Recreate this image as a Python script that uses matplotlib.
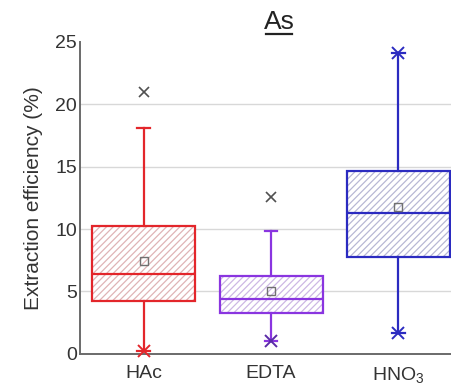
import matplotlib
matplotlib.use("Agg")
import matplotlib.pyplot as plt
from matplotlib.patches import PathPatch
from matplotlib.lines import Line2D

plt.rcParams['font.family'] = ['Liberation Sans', 'DejaVu Sans']
plt.rcParams['mathtext.fontset'] = 'custom'
plt.rcParams['mathtext.rm'] = 'Liberation Sans'
plt.rcParams['mathtext.it'] = 'Liberation Sans:italic'
plt.rcParams['mathtext.bf'] = 'Liberation Sans:bold'
plt.rcParams['hatch.linewidth'] = 0.9

# ---- data ----
categories = ['HAc', 'EDTA', r'HNO$_3$']
q1 = [4.2, 3.27, 7.74]
median = [6.4, 4.39, 11.25]
q3 = [10.24, 6.26, 14.66]
whisker_low = [0.2, 1.0, 1.7]
whisker_high = [18.05, 9.86, 24.1]
means = [7.4, 5.0, 11.8]
outliers = [[21.0], [12.6], []]          # gray x markers
end_marks = [[0.2], [1.0], [1.7, 24.1]]  # colored x at whisker ends
yticks = [0, 5, 10, 15, 20, 25]
title = 'As'
ylabel = 'Extraction efficiency (%)'

colors = ['#e3262b', '#8a35e0', '#2b2bc0']
hatch_colors = ['#dfb4b6', '#cdb8e4', '#b8b8d4']
text_color = '#333333'

fig = plt.figure(figsize=(4.52, 3.92), dpi=100)
ax = fig.add_axes([0.177, 0.097, 0.823, 0.797])

positions = [1, 2, 3]
stats = []
for i in range(3):
    stats.append(dict(med=median[i], q1=q1[i], q3=q3[i], whislo=whisker_low[i],
                      whishi=whisker_high[i], mean=means[i], fliers=[], label=categories[i]))

bp = ax.bxp(stats, positions=positions, widths=0.81, patch_artist=True,
            showmeans=False, showfliers=False, zorder=3)

for i, box in enumerate(bp['boxes']):
    box.set_facecolor('white')
    box.set_edgecolor(hatch_colors[i])
    box.set_hatch('/////')
    box.set_linewidth(0)
    outline = PathPatch(box.get_path(), transform=box.get_transform(), fill=False,
                        edgecolor=colors[i], linewidth=1.6, zorder=4)
    ax.add_patch(outline)
for i in range(3):
    for w in bp['whiskers'][2 * i:2 * i + 2]:
        w.set_color(colors[i]); w.set_linewidth(1.6)
    for c in bp['caps'][2 * i:2 * i + 2]:
        c.set_color(colors[i]); c.set_linewidth(1.6)
        c.set_xdata([positions[i] - 0.05, positions[i] + 0.05])
    bp['medians'][i].set_color(colors[i]); bp['medians'][i].set_linewidth(1.6)
    bp['medians'][i].set_zorder(5)

for i in range(3):
    ax.plot([positions[i]], [means[i]], marker='s', markersize=6, markerfacecolor='none',
            markeredgecolor='#707070', markeredgewidth=1.0, linestyle='none', zorder=6)
    if outliers[i]:
        ax.plot([positions[i]] * len(outliers[i]), outliers[i], marker='x', markersize=7,
                color='#505050', markeredgewidth=1.2, linestyle='none', zorder=6)
    ax.plot([positions[i]] * len(end_marks[i]), end_marks[i], marker='x', markersize=8,
            color=colors[i] if i != 1 else '#5a2aa8', markeredgewidth=1.4,
            linestyle='none', zorder=6, clip_on=False)

ax.set_xlim(0.5, 3.42)
ax.set_ylim(0, 25)
ax.set_yticks(yticks)
ax.set_xticks(positions)
ax.set_xticklabels(categories)
ax.tick_params(axis='both', length=0, labelsize=14, colors=text_color)
ax.tick_params(axis='x', pad=8)
ax.tick_params(axis='y', pad=2)
ax.set_ylabel(ylabel, fontsize=15, color=text_color, labelpad=9)

for y in yticks[1:-1]:
    ax.axhline(y, color='#d8d8d8', linewidth=1.0, zorder=1)

for s in ['top', 'right']:
    ax.spines[s].set_visible(False)
for s in ['left', 'bottom']:
    ax.spines[s].set_color('#6a6a6a')
    ax.spines[s].set_linewidth(1.4)

fig.text(279 / 452, 1 - 29 / 392, title, ha='center', va='baseline', fontsize=19,
         color='#222222')
fig.add_artist(Line2D([266 / 452, 292 / 452], [1 - 33.5 / 392, 1 - 33.5 / 392],
                      color='#222222', linewidth=1.6, transform=fig.transFigure))

fig.savefig('out.png', dpi=100)
